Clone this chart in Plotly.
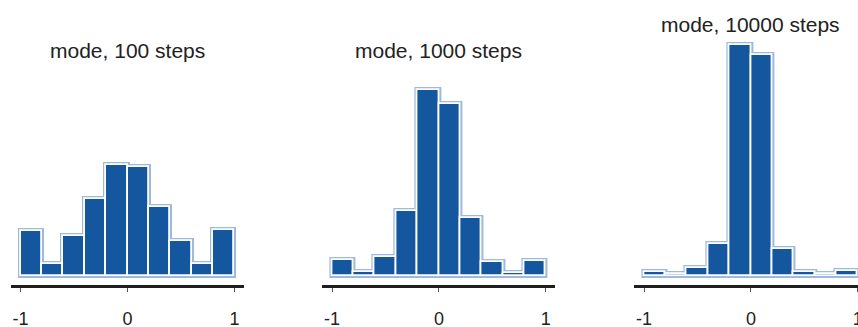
import plotly.graph_objects as go

# Histogram bins shared by all panels
bin_edges = [-1.0, -0.8, -0.6, -0.4, -0.2, 0.0, 0.2, 0.4, 0.6, 0.8, 1.0]

# Share of samples (%) falling into each bin
pct_100 = [8.2, 2.1, 7.3, 14.0, 20.2, 19.8, 12.5, 6.4, 2.1, 8.4]
pct_1000 = [2.9, 0.7, 3.5, 11.8, 33.8, 31.2, 10.5, 2.5, 0.6, 2.7]
pct_10000 = [0.8, 0.35, 1.4, 5.9, 42.0, 40.2, 4.9, 0.8, 0.35, 1.0]

titles = ["mode, 100 steps", "mode, 1000 steps", "mode, 10000 steps"]
tick_vals = [-1, 0, 1]
tick_text = ["-1", "0", "1"]

series = [pct_100, pct_1000, pct_10000]

FILL = "#15579f"
EDGE = "#9db9dd"
W, H = 858, 327
FONT = "Liberation Sans, Arial, sans-serif"

# panel placement in pixels and x ranges
panel_px = [(11, 244), (322.4, 555.4), (634.4, 858)]
x_ranges = [[-1.09, 1.09], [-1.09, 1.09], [-1.09, 1.002]]
title_y = [0.822, 0.822, 0.914]

centers = [(a + b) / 2 for a, b in zip(bin_edges[:-1], bin_edges[1:])]
widths = [b - a for a, b in zip(bin_edges[:-1], bin_edges[1:])]

fig = go.Figure()
for i, vals in enumerate(series):
    xa = "x" if i == 0 else f"x{i + 1}"
    ya = "y" if i == 0 else f"y{i + 1}"

    # pale halo underneath gives the thin light outline around the bars
    fig.add_trace(go.Bar(
        x=centers, y=vals, width=widths,
        marker=dict(color=EDGE, line=dict(color=EDGE, width=5)),
        xaxis=xa, yaxis=ya, showlegend=False, hoverinfo="skip",
    ))
    fig.add_trace(go.Bar(
        x=centers, y=vals, width=widths,
        marker=dict(color=FILL, line=dict(color="white", width=1.8)),
        xaxis=xa, yaxis=ya, showlegend=False,
    ))

    x0, x1 = panel_px[i]
    fig.layout[f"xaxis{'' if i == 0 else i + 1}"] = dict(
        domain=[x0 / W, x1 / W],
        range=x_ranges[i],
        anchor=ya,
        automargin=False,
        showline=True, linecolor="#1e1e1e", linewidth=3,
        showgrid=False, zeroline=False,
        ticks="outside", ticklen=4, tickwidth=1, tickcolor="#555555",
        tickvals=tick_vals, ticktext=tick_text,
        tickfont=dict(family=FONT, size=18, color="#222222"),
        ticklabelstandoff=11,
        ticklabeloverflow="allow",
        fixedrange=True,
    )
    fig.layout[f"yaxis{'' if i == 0 else i + 1}"] = dict(
        domain=[0, 1],
        range=[-1.636, 50.18],
        anchor=xa,
        visible=False,
        fixedrange=True,
    )

    fig.add_annotation(
        text=titles[i], x=0, xref=xa, y=title_y[i], yref="paper",
        xanchor="center", yanchor="middle", showarrow=False,
        font=dict(family=FONT, size=21, color="#222222"),
    )

fig.update_layout(
    width=W, height=H,
    margin=dict(l=0, r=0, t=0, b=42),
    paper_bgcolor="white", plot_bgcolor="white",
    bargap=0, barmode="overlay",
)

fig.write_html("out.html")
